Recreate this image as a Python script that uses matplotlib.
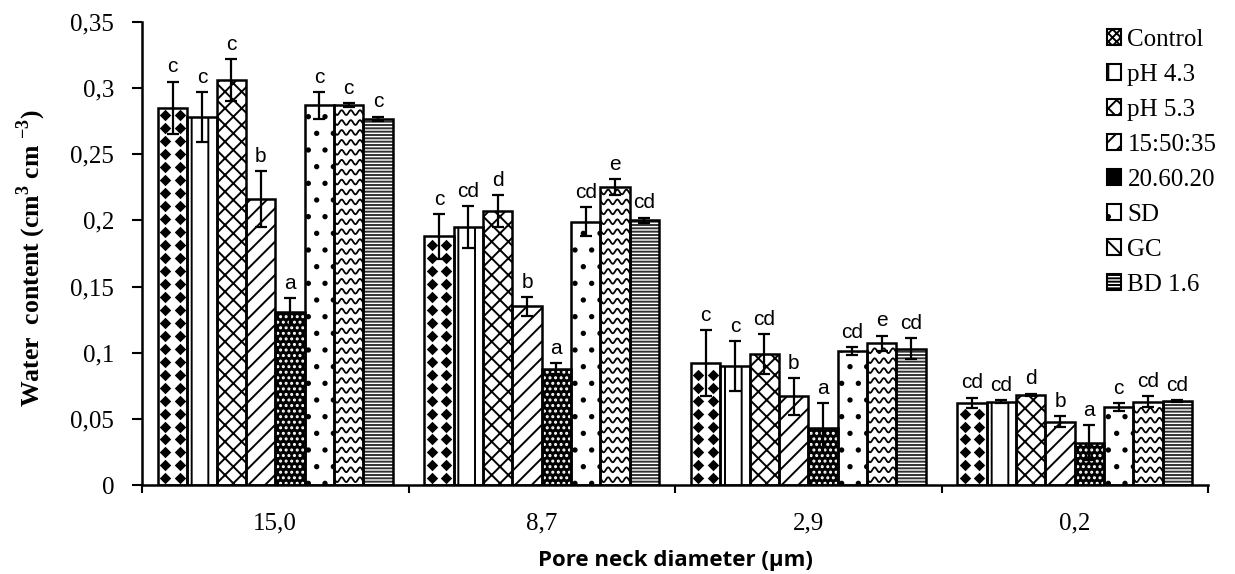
import numpy as np
import matplotlib
matplotlib.use("Agg")
import matplotlib.pyplot as plt
from matplotlib.patches import Patch
from matplotlib.ticker import FuncFormatter, MultipleLocator

# ---------------- data ----------------
diameters = ["15,0", "8,7", "2,9", "0,2"]
treatments = ["Control", "pH 4.3", "pH 5.3", "15:50:35", "20.60.20", "SD", "GC", "BD 1.6"]

control  = [0.285, 0.188, 0.092, 0.062]
ph43     = [0.278, 0.195, 0.090, 0.063]
ph53     = [0.306, 0.207, 0.099, 0.068]
t155035  = [0.216, 0.135, 0.067, 0.048]
t206020  = [0.131, 0.088, 0.043, 0.032]
sd       = [0.287, 0.199, 0.101, 0.059]
gc       = [0.287, 0.225, 0.107, 0.063]
bd16     = [0.277, 0.200, 0.103, 0.0635]

err_control = [0.020, 0.017, 0.025, 0.004]
err_ph43    = [0.019, 0.016, 0.019, 0.001]
err_ph53    = [0.016, 0.012, 0.015, 0.001]
err_155035  = [0.021, 0.007, 0.014, 0.004]
err_206020  = [0.010, 0.004, 0.019, 0.013]
err_sd      = [0.010, 0.011, 0.003, 0.003]
err_gc      = [0.0015, 0.006, 0.006, 0.004]
err_bd16    = [0.0015, 0.002, 0.008, 0.0005]

let_control = ["c", "c", "c", "cd"]
let_ph43    = ["c", "cd", "c", "cd"]
let_ph53    = ["c", "d", "cd", "d"]
let_155035  = ["b", "b", "b", "b"]
let_206020  = ["a", "a", "a", "a"]
let_sd      = ["c", "cd", "cd", "c"]
let_gc      = ["c", "e", "e", "cd"]
let_bd16    = ["c", "cd", "cd", "cd"]

values  = [control, ph43, ph53, t155035, t206020, sd, gc, bd16]
errors  = [err_control, err_ph43, err_ph53, err_155035, err_206020, err_sd, err_gc, err_bd16]
letters = [let_control, let_ph43, let_ph53, let_155035, let_206020, let_sd, let_gc, let_bd16]

# ---------------- style ----------------
plt.rcParams['font.family'] = ['Liberation Serif', 'DejaVu Serif']
plt.rcParams['hatch.linewidth'] = 1.4
plt.rcParams['mathtext.fontset'] = 'custom'
plt.rcParams['mathtext.rm'] = 'Liberation Serif'
plt.rcParams['mathtext.bf'] = 'Liberation Serif:bold'

hatches = ['', '|', 'xx', '//', '...', '.', '', '-----']
faces   = ['white', 'white', 'white', 'white', 'black', 'white', 'white', 'white']
hcols   = ['black', 'black', 'black', 'black', 'white', 'black', 'black', '#333333']
leg_hatches = ['xxxx', '|', 'xx', '//', '...', '.', '\\\\', '-----']

fig = plt.figure(figsize=(12.35, 5.74), dpi=100)
ax = fig.add_axes([142/1235, 89/574, 1066/1235, 463/574])

n = len(treatments)
w = 0.11
xg = np.arange(len(diameters))

for j in range(n):
    xs = xg + (j - (n - 1) / 2) * w
    vals = values[j]
    bars = ax.bar(xs, vals, width=w, color=faces[j], edgecolor=hcols[j],
                  hatch=hatches[j], linewidth=0, zorder=2)
    ax.bar(xs, vals, width=w, fill=False, edgecolor='black', linewidth=1.8, zorder=4)
    if treatments[j] == "Control":
        for b, x, v in zip(bars, xs, vals):
            ys = np.arange(0.005, v, 0.0098)
            for dx in (-w / 4, w / 4):
                sc = ax.scatter(np.full_like(ys, x + dx), ys, marker='D', s=34,
                                color='black', linewidths=0, zorder=3)
                sc.set_clip_path(b)
    if treatments[j] == "GC":
        for b, x, v in zip(bars, xs, vals):
            xx = np.linspace(x - w / 2, x + w / 2, 60)
            for y0 in np.arange(0.004, v, 0.0075):
                ln, = ax.plot(xx, y0 + 0.0018 * np.sin((xx - x) / w * 2 * np.pi * 3.2),
                              color='black', lw=1.3, zorder=3)
                ln.set_clip_path(b)
    ax.errorbar(xs, vals, yerr=errors[j], fmt='none', ecolor='black',
                elinewidth=1.6, capsize=4.5, capthick=1.6, zorder=5)
    for x, v, e, t in zip(xs, vals, errors[j], letters[j]):
        ax.text(x, v + e + 0.004, t, ha='center', va='bottom', fontsize=15,
                family=['Liberation Sans', 'DejaVu Sans'], zorder=6)

ax.set_xlim(-0.5, len(diameters) - 0.5)
ax.set_ylim(0, 0.35)
ax.yaxis.set_major_locator(MultipleLocator(0.05))
ax.yaxis.set_major_formatter(FuncFormatter(lambda v, p: ('%g' % round(v, 2)).replace('.', ',')))
ax.tick_params(axis='y', labelsize=18, direction='out', length=7, width=1.5, pad=13)

ax.set_xticks(xg)
ax.set_xticklabels(diameters, fontsize=18)
ax.tick_params(axis='x', which='major', length=0, pad=20)
ax.set_xticks(np.arange(-0.5, len(diameters), 1.0), minor=True)
ax.tick_params(axis='x', which='minor', length=6, width=1.5, direction='out')

for s in ['top', 'right']:
    ax.spines[s].set_visible(False)
for s in ['left', 'bottom']:
    ax.spines[s].set_linewidth(1.8)

ax.set_ylabel(r'Water  content (cm$^{\mathbf{3}}$ cm $^{\mathbf{-3}}$)', fontsize=18.5,
              fontweight='bold')
ax.yaxis.set_label_coords(-0.088, 0.49)
ax.set_xlabel('Pore neck diameter (µm)', fontsize=16, fontweight='bold',
              family=['Open Sans', 'DejaVu Sans'])
ax.xaxis.label.set_va('bottom')
ax.xaxis.set_label_coords(0.5, -0.185)

handles = [Patch(facecolor=faces[j], edgecolor='black', hatch=leg_hatches[j],
                 linewidth=1.5) for j in range(n)]
ax.legend(handles, treatments, loc='upper left', bbox_to_anchor=(0.905, 0.985),
          frameon=False, fontsize=18, handlelength=0.58, handleheight=0.58,
          handletextpad=0.25, labelspacing=0.52, borderaxespad=0, borderpad=0)

fig.savefig('out.png', dpi=100)
